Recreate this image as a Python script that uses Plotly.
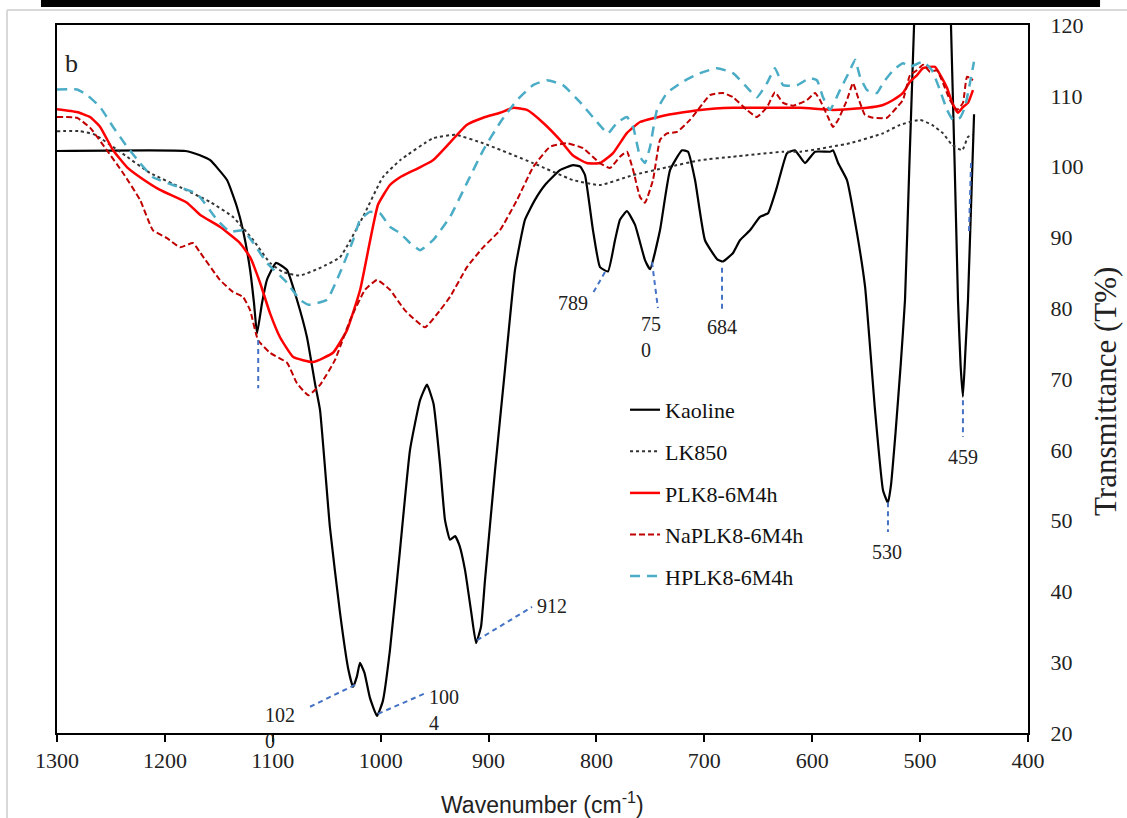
import plotly.graph_objects as go

# ---------------- data ----------------
kaoline_w = [1300, 1181, 1167.5, 1158, 1142.4, 1133.2, 1127.6, 1121, 1117.4, 1114.6, 1110, 1105.4, 1097, 1086.8,
             1077.6, 1068.3, 1060.9, 1056.2, 1047, 1037.7, 1030, 1025.6, 1022, 1019.2, 1015, 1010, 1003.4, 998,
             991.4, 982.1, 972.8, 963.5, 957.1, 951, 945, 940.4, 935.7, 931, 927, 921.8, 916, 911.6, 907, 903.3,
             894, 884.8, 875.5, 866.2, 857, 847.7, 833.8, 821.7, 815, 810.6, 803.2, 796.7, 789.3, 782.8, 778.2,
             771.7, 764.3, 755, 750.3, 741.1, 731.8, 720.7, 715.1, 708.6, 699.4, 688, 682.7, 673.4, 667, 657.7,
             648.4, 641, 632.7, 623.4, 616, 606.7, 597.4, 583.5, 580.7, 576, 567.8, 558.5, 551, 541.8, 534.4,
             529.8, 527, 523, 518, 514, 510, 505.6, 500, 486, 471.4, 464.9, 462.5, 460.3, 458, 455.6, 450]
kaoline_t = [102.2, 102.2, 101.6, 100.9, 98.1, 94.3, 91.0, 85.4, 80.7, 76.4, 80.7, 84.0, 86.4, 85.4,
             81.2, 75.9, 69.4, 65.6, 49, 37, 29, 26.5, 28, 29.9, 28.5, 25, 22.4, 24.5,
             31.7, 45.8, 60, 67, 69.2, 66.5, 58, 50.1, 47.3, 47.8, 46.5, 43, 37, 32.7, 35, 41.6,
             57.1, 71.3, 85.4, 92.5, 95.3, 97.4, 99.5, 100.2, 100, 98.8, 91, 85.8, 85.2, 89.6, 92.5,
             93.7, 91.8, 86.8, 85.5, 91, 99.5, 102.3, 102.1, 98.1, 89.6, 86.9, 86.6, 87.8, 89.6, 91,
             92.9, 93.4, 97.1, 101.9, 102.3, 100.5, 102.1, 102.1, 102.3, 100.5, 98.1, 90.6, 83, 65.6, 54.3,
             52.5, 55, 62, 72, 81.2, 100, 120, 145, 165, 120, 81.2, 72, 67.5, 74, 81.2, 107.4]

lk850_w = [1300, 1278.7, 1264.8, 1241.6, 1213.8, 1186, 1158, 1137, 1118, 1102.6, 1090.5, 1074.8, 1056, 1037.7,
           1016.4, 998, 982, 951.5, 931, 905, 858.8, 821.7, 796.7, 766, 734.6, 704, 673.4, 627, 611, 565,
           534.4, 518.6, 500, 489, 478.8, 470.5, 461, 455.6, 451]
lk850_t = [105, 105, 104.5, 102.1, 99.1, 97.1, 95, 92.9, 89.6, 86.4, 85.1, 84.6, 85.7, 87.2,
           92.9, 98.5, 100.9, 104, 104.5, 103.3, 100.5, 98.1, 97.4, 98.8, 99.9, 100.9, 101.4, 102.1, 102.1, 103.3,
           104.7, 105.9, 106.6, 105.9, 104.7, 103.1, 102.3, 104.2, 104.5]

plk_w = [1300, 1281.5, 1269.4, 1260, 1248, 1235, 1223, 1204.5, 1179.5, 1167.5, 1149, 1130.4, 1121, 1111.8,
         1102.6, 1093.3, 1081, 1062.7, 1044.2, 1031.2, 1019, 1002.5, 991.4, 982, 951.5, 920, 905, 889.4, 877,
         864.4, 849.5, 834, 822, 809, 796.7, 784.6, 772, 759.6, 734.6, 704, 673.4, 611, 580.7, 549.2, 534.4,
         525, 515.9, 509.4, 503, 497.3, 486.2, 479.7, 475, 470.5, 464.9, 460.3, 455.6, 451]
plk_t = [108.1, 107.7, 107, 105.6, 102.3, 99.9, 98.5, 96.7, 94.9, 93.2, 91.5, 89.2, 87.2, 83.6,
         79.3, 75.9, 73.1, 72.4, 73.7, 76.9, 82.6, 94.6, 97.4, 98.5, 100.9, 105.9, 106.9, 107.6, 108.3,
         108, 106.2, 103.8, 101.6, 100.5, 100.5, 101.9, 104.7, 106.3, 107.3, 108, 108.3, 108.3, 108, 108.3, 108.7,
         109.4, 110.4, 112, 112.9, 113.9, 114.1, 112.5, 111.1, 109.1, 107.6, 108.4, 109, 110.8]

naplk_w = [1300, 1281.5, 1269.4, 1253.7, 1238.8, 1223, 1211, 1198, 1186, 1174, 1167.5, 1149, 1136.9, 1127.6,
           1121, 1113.7, 1102.6, 1086.8, 1077.6, 1067, 1056, 1042.3, 1028.4, 1014.5, 1003.4, 991.4, 977.5,
           958.9, 945, 935.7, 920, 905, 889.4, 873.6, 858.8, 843, 827.3, 812.5, 796.7, 787.4, 778.2, 771.7,
           766, 759.6, 755, 747.6, 741, 734.6, 725.3, 713.3, 704, 694.8, 682.7, 673.4, 660.5, 651.2, 641.9,
           634.5, 627, 617.8, 604.8, 597.4, 592.8, 585.4, 580.7, 576, 567.8, 562.2, 557.6, 551.1, 543.7, 530.7,
           521.4, 515.9, 509.4, 503, 497.3, 490.8, 484.4, 478.8, 472.3, 465.8, 460.3, 456.5, 451]
naplk_t = [107, 106.9, 105.5, 102.3, 99.1, 95.3, 91, 89.9, 88.6, 89.2, 87.9, 84, 82.3, 81.6,
           79.7, 75.5, 73.7, 72.3, 69.4, 67.7, 69.2, 72.7, 78.3, 82.6, 84, 82.6, 79.7,
           77.3, 79.7, 81.6, 85.8, 88.6, 91, 95.3, 99.9, 102.8, 103.3, 102.6, 100.5, 99.8, 101.4, 102.1,
           99.5, 95.7, 94.9, 98.1, 103.8, 104.7, 104.9, 106.6, 108.4, 110.1, 110.4, 109.8, 108, 107, 108.4,
           110.5, 109, 108.6, 109.4, 110.4, 109.4, 107, 105.6, 106.6, 109.4, 111.8, 109.8, 107.3, 106.9, 106.9,
           108.4, 109.4, 112.9, 113.6, 114.4, 113.4, 113.6, 111.8, 109.4, 108, 109, 112.7, 112.2]

hplk_w = [1300, 1281.5, 1272, 1260, 1248, 1235, 1223, 1211, 1192.5, 1174, 1167.5, 1151.7, 1139.7, 1127.6,
          1118, 1105.4, 1086.8, 1074.8, 1067, 1049.7, 1037.7, 1025.6, 1019, 1010, 1000.6, 991.4, 982, 972.8,
          963.5, 951.5, 935.7, 920, 905, 889.4, 873.6, 858.8, 845.8, 831, 815.2, 799.5, 789.3, 781, 771.7,
          766, 759.6, 755, 750.3, 743.9, 734.6, 719.8, 704, 688.3, 673.4, 660.5, 651.2, 641.9, 634.5, 627,
          614.1, 602.1, 595.6, 590, 583.5, 574.3, 565, 560.3, 555.7, 549.2, 540, 534.4, 525, 515.9, 509.4,
          497.3, 489, 481.6, 475, 469.5, 463, 458.4, 453.8, 450.1]
hplk_t = [110.9, 110.9, 110.1, 108.4, 105.6, 102.8, 100.5, 98.5, 97.4, 96.4, 95.7, 92.5, 90.8, 91,
          89.2, 86.4, 83.6, 81.2, 80.5, 81.2, 85, 89.6, 92.5, 93.6, 93.4, 91.5, 90.6, 89.2,
          88.2, 89.6, 92.9, 97.7, 102.3, 106.2, 109.4, 111.5, 112.2, 111.5, 109.1, 106.3, 104.7, 106.2, 107,
          105.6, 101.4, 100.5, 102.8, 108, 110.4, 112, 113.2, 113.9, 113.2, 111.2, 109.8, 111.8, 113.9, 111.5,
          111.5, 112.5, 112.2, 109.8, 108, 110.8, 113.6, 115.1, 112.7, 110.8, 110.4, 111.8, 113.6, 114.6, 114.1,
          114.8, 113.6, 110.8, 108, 106.6, 106.9, 108.4, 111.8, 114.8]

series_names = ["Kaoline", "LK850", "PLK8-6M4h", "NaPLK8-6M4h", "HPLK8-6M4h"]

# peak labels: text, anchor wavenumber, anchor T, alignment
peak_labels = ["102<br>0", "100<br>4", "912", "789", "75<br>0", "684", "530", "459"]
peak_label_w = [1109, 957.1, 857, 821.7, 760.6, 683.6, 530.7, 460.3]
peak_label_t = [20.7, 23.2, 37.9, 80.7, 75.9, 77.3, 45.6, 59]
peak_label_anchor = ["left", "left", "left", "center", "left", "center", "center", "center"]

# leader lines (x0, y0, x1, y1) in data units
leader_w0 = [1113.5, 1023.8, 1002.5, 910.7, 792.1, 748.5, 683.6, 529.8, 460.3, 452.8]
leader_t0 = [75.5, 26.8, 22.7, 33.1, 85.1, 86.5, 85.7, 52.6, 67, 100.5]
leader_w1 = [1113.5, 1068.3, 958.9, 859.7, 804.1, 743, 683.6, 529.8, 460.3, 454.7]
leader_t1 = [68.7, 23.5, 25.6, 37.8, 81.9, 80, 79.5, 48.4, 61.8, 90.8]

x_ticks = [1300, 1200, 1100, 1000, 900, 800, 700, 600, 500, 400]
y_ticks = [20, 30, 40, 50, 60, 70, 80, 90, 100, 110, 120]

x_title = "Wavenumber (cm<sup>-1</sup>)"
y_title = "Transmittance (T%)"

# ---------------- figure ----------------
SERIF = "Liberation Serif, Times New Roman, serif"
SANS = "Liberation Sans, Arial, sans-serif"

styles = [
    dict(color="#000000", width=2.2, dash="solid"),
    dict(color="#333333", width=2.0, dash="dot"),
    dict(color="#FF0000", width=2.5, dash="solid"),
    dict(color="#C00000", width=2.0, dash="6px,3px"),
    dict(color="#4BACC6", width=2.5, dash="10px,7px"),
]
data_w = [kaoline_w, lk850_w, plk_w, naplk_w, hplk_w]
data_t = [kaoline_t, lk850_t, plk_t, naplk_t, hplk_t]

fig = go.Figure()
for i, name in enumerate(series_names):
    fig.add_trace(go.Scatter(
        x=data_w[i], y=data_t[i], mode="lines", name=name,
        line=dict(color=styles[i]["color"], width=styles[i]["width"], dash=styles[i]["dash"],
                  shape="spline", smoothing=0.4),
        legendgroup=name,
    ))

shapes = []
for a, b, c, d in zip(leader_w0, leader_t0, leader_w1, leader_t1):
    shapes.append(dict(type="line", xref="x", yref="y", x0=a, y0=b, x1=c, y1=d,
                       line=dict(color="#4472C4", width=2, dash="5px,4px"), layer="above"))

# page decorations (document frame of the screenshot)
shapes.append(dict(type="rect", xref="paper", yref="paper", x0=-0.0165, x1=1.0742, y0=1.0254, y1=1.0353,
                   fillcolor="black", line=dict(width=0), layer="above"))
shapes.append(dict(type="line", xref="paper", yref="paper", x0=-0.0515, x1=1.11, y0=1.0212, y1=1.0212,
                   line=dict(color="#D9D9D9", width=2)))
shapes.append(dict(type="line", xref="paper", yref="paper", x0=-0.0515, x1=-0.0515, y0=1.0212, y1=-0.13,
                   line=dict(color="#D9D9D9", width=2)))

annotations = []
for txt, w, t, anc in zip(peak_labels, peak_label_w, peak_label_t, peak_label_anchor):
    annotations.append(dict(x=w, y=t, xref="x", yref="y", text=txt, showarrow=False,
                            xanchor=anc, yanchor="middle", align="left",
                            font=dict(family=SERIF, size=20, color="#222222")))
annotations.append(dict(x=0.006, y=0.946, xref="paper", yref="paper", text="b", showarrow=False,
                        xanchor="left", yanchor="middle", font=dict(family=SERIF, size=26, color="#222222")))
# axis titles
annotations.append(dict(x=1.0793, y=0.4816, xref="paper", yref="paper", text=y_title, showarrow=False,
                        textangle=-90, xanchor="center", yanchor="middle",
                        font=dict(family=SERIF, size=31, color="#222222")))
annotations.append(dict(x=0.5, y=-0.0989, xref="paper", yref="paper", text=x_title, showarrow=False,
                        xanchor="center", yanchor="middle",
                        font=dict(family=SANS, size=23, color="#222222")))

fig.update_layout(
    width=1127, height=818,
    margin=dict(l=57, r=99, t=25, b=85),
    paper_bgcolor="white", plot_bgcolor="white",
    showlegend=True,
    legend=dict(x=0.585, y=0.486, xanchor="left", yanchor="top", bgcolor="rgba(0,0,0,0)",
                font=dict(family=SERIF, size=22, color="#111111"), tracegroupgap=10,
                traceorder="grouped"),
    shapes=shapes,
    annotations=annotations,
    xaxis=dict(range=[1300, 400], tickvals=x_ticks, ticktext=[str(v) for v in x_ticks],
               ticks="outside", ticklen=7, tickwidth=1.5, tickcolor="black",
               showline=True, linecolor="black", linewidth=2, mirror=True,
               showgrid=False, zeroline=False, automargin=False,
               tickfont=dict(family=SERIF, size=22, color="#222222")),
    yaxis=dict(range=[20, 120], tickvals=y_ticks, side="right",
               ticks="", showline=True, linecolor="black", linewidth=2, mirror=True,
               showgrid=False, zeroline=False, ticklabelstandoff=16, automargin=False,
               tickfont=dict(family=SERIF, size=22, color="#222222")),
)

fig.write_html("out.html")
